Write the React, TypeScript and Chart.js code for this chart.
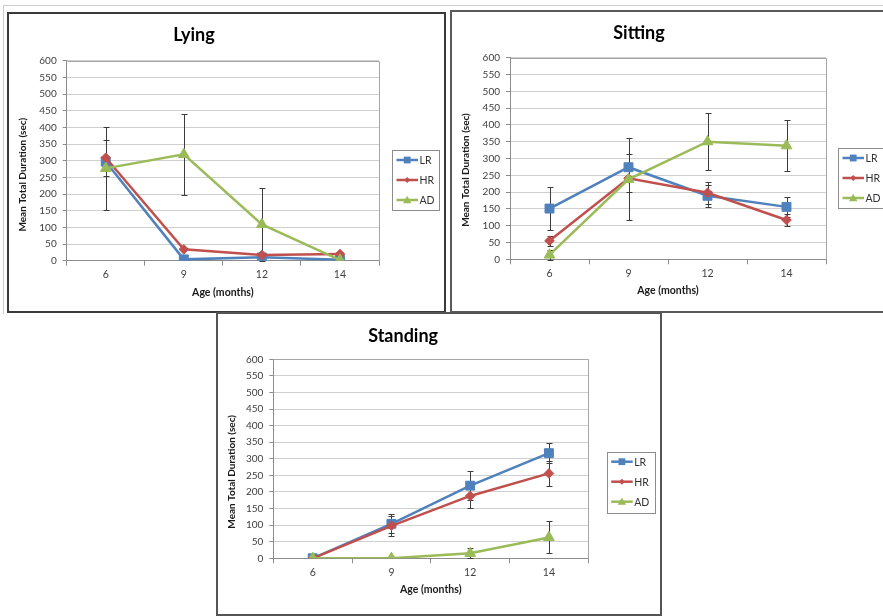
import React, { useEffect, useRef } from "react";
import { Chart, registerables } from "chart.js";

Chart.register(...registerables);

// ---------- data ----------
const AGES = ["6", "9", "12", "14"];
const SERIES_NAMES = ["LR", "HR", "AD"];
const Y_MIN = 0;
const Y_MAX = 600;
const Y_STEP = 50;

const LYING_LR = [297, 4, 10, 3];
const LYING_HR = [309, 34, 17, 20];
const LYING_AD = [277, 319, 109, 2];
const LYING_LR_ERR = [0, 0, 0, 0];
const LYING_HR_ERR = [54, 0, 0, 0];
const LYING_AD_ERR = [125, 122, 110, 0];

const SITTING_LR = [151, 274, 189, 156];
const SITTING_HR = [55, 241, 198, 117];
const SITTING_AD = [13, 238, 350, 338];
const SITTING_LR_ERR = [65, 38, 33, 30];
const SITTING_HR_ERR = [14, 40, 33, 18];
const SITTING_AD_ERR = [14, 122, 85, 76];

const STANDING_LR = [0, 104, 219, 317];
const STANDING_HR = [0, 98, 188, 256];
const STANDING_AD = [0, 0, 15, 63];
const STANDING_LR_ERR = [0, 29, 44, 30];
const STANDING_HR_ERR = [0, 31, 37, 37];
const STANDING_AD_ERR = [0, 0, 15, 48];

const Y_TITLE = "Mean Total Duration (sec)";
const X_TITLE = "Age (months)";

// ---------- styles ----------
const COLORS = ["#4F81BD", "#C0504D", "#9BBB59"];
const POINT_STYLES = ["rect", "rectRot", "triangle"];
const POINT_RADII = [6.3, 4.8, 6.2];
const FONT = "Lato, 'Open Sans', 'DejaVu Sans', sans-serif";

type Panel = {
  key: string;
  title: string;
  box: { left: number; top: number; width: number; height: number; color: string };
  plot: { left: number; right: number; top: number; bottom: number };
  titleY: number;
  yTitle: { x: number; y: number };
  xLabelY: number;
  xTitleY: number;
  legend: { x: number; y: number; w: number; h: number };
  series: number[][];
  errors: number[][];
};

const PANELS: Panel[] = [
  {
    key: "lying",
    title: "Lying",
    box: { left: 7, top: 12, width: 439, height: 301, color: "#3a3a3a" },
    plot: { left: 57.7, right: 370, top: 46.7, bottom: 246.7 },
    titleY: 21,
    yTitle: { x: 14, y: 160.7 },
    xLabelY: 261,
    xTitleY: 278.3,
    legend: { x: 383, y: 136, w: 47, h: 60 },
    series: [LYING_LR, LYING_HR, LYING_AD],
    errors: [LYING_LR_ERR, LYING_HR_ERR, LYING_AD_ERR],
  },
  {
    key: "sitting",
    title: "Sitting",
    box: { left: 450, top: 10, width: 440, height: 303, color: "#5a5a5a" },
    plot: { left: 58, right: 374, top: 45.7, bottom: 247.3 },
    titleY: 21,
    yTitle: { x: 14, y: 158 },
    xLabelY: 262,
    xTitleY: 278.7,
    legend: { x: 386, y: 136, w: 48, h: 60 },
    series: [SITTING_LR, SITTING_HR, SITTING_AD],
    errors: [SITTING_LR_ERR, SITTING_HR_ERR, SITTING_AD_ERR],
  },
  {
    key: "standing",
    title: "Standing",
    box: { left: 216, top: 312, width: 446, height: 304, color: "#555555" },
    plot: { left: 55.3, right: 370.3, top: 45.3, bottom: 244.3 },
    titleY: 21.7,
    yTitle: { x: 13.7, y: 157.8 },
    xLabelY: 258.7,
    xTitleY: 275.3,
    legend: { x: 388.7, y: 137.7, w: 48, h: 61 },
    series: [STANDING_LR, STANDING_HR, STANDING_AD],
    errors: [STANDING_LR_ERR, STANDING_HR_ERR, STANDING_AD_ERR],
  },
];

function drawMarker(ctx: CanvasRenderingContext2D, style: string, x: number, y: number, r: number) {
  ctx.beginPath();
  if (style === "rect") {
    ctx.rect(x - r, y - r, 2 * r, 2 * r);
  } else if (style === "rectRot") {
    ctx.moveTo(x, y - r);
    ctx.lineTo(x + r, y);
    ctx.lineTo(x, y + r);
    ctx.lineTo(x - r, y);
    ctx.closePath();
  } else {
    ctx.moveTo(x, y - r);
    ctx.lineTo(x + r, y + r * 0.75);
    ctx.lineTo(x - r, y + r * 0.75);
    ctx.closePath();
  }
  ctx.fill();
}

const panelPlugin = {
  id: "panelDecor",
  beforeDatasetsDraw(chart: any, _args: any, opts: any) {
    const ctx: CanvasRenderingContext2D = chart.ctx;
    const ca = chart.chartArea;
    // plot area border (top/right)
    ctx.save();
    ctx.strokeStyle = "#a6a6a6";
    ctx.lineWidth = 1;
    ctx.beginPath();
    ctx.moveTo(Math.round(ca.left) + 0.5, Math.round(ca.top) + 0.5);
    ctx.lineTo(Math.round(ca.right) + 0.5, Math.round(ca.top) + 0.5);
    ctx.lineTo(Math.round(ca.right) + 0.5, Math.round(ca.bottom) + 0.5);
    ctx.stroke();
    ctx.restore();

    // error bars
    const yScale = chart.scales.y;
    const errors: number[][] = opts.errors || [];
    ctx.save();
    ctx.strokeStyle = "#3c3c3c";
    ctx.lineWidth = 1;
    chart.data.datasets.forEach((ds: any, i: number) => {
      const meta = chart.getDatasetMeta(i);
      const errs = errors[i] || [];
      meta.data.forEach((pt: any, j: number) => {
        const e = errs[j];
        if (!e) return;
        const v = ds.data[j];
        const x = Math.round(pt.x) + 0.5;
        const yt = Math.round(yScale.getPixelForValue(v + e)) + 0.5;
        const yb = Math.round(yScale.getPixelForValue(v - e)) + 0.5;
        ctx.beginPath();
        ctx.moveTo(x, yt);
        ctx.lineTo(x, yb);
        ctx.moveTo(x - 3, yt);
        ctx.lineTo(x + 3, yt);
        ctx.moveTo(x - 3, yb);
        ctx.lineTo(x + 3, yb);
        ctx.stroke();
      });
    });
    ctx.restore();
  },
  afterDraw(chart: any, _args: any, opts: any) {
    const ctx: CanvasRenderingContext2D = chart.ctx;
    // y axis title
    ctx.save();
    ctx.translate(opts.yTitle.x, opts.yTitle.y);
    ctx.rotate(-Math.PI / 2);
    ctx.font = `bold 10px ${FONT}`;
    ctx.fillStyle = "#1a1a1a";
    ctx.textAlign = "center";
    ctx.textBaseline = "middle";
    ctx.fillText(Y_TITLE, 0, 0);
    ctx.restore();

    // legend
    const L = opts.legend;
    ctx.save();
    ctx.strokeStyle = "#8c8c8c";
    ctx.lineWidth = 1;
    ctx.strokeRect(Math.round(L.x) + 0.5, Math.round(L.y) + 0.5, Math.round(L.w), Math.round(L.h));
    chart.data.datasets.forEach((ds: any, i: number) => {
      const cy = L.y + 10 + i * 20;
      ctx.strokeStyle = ds.borderColor;
      ctx.fillStyle = ds.borderColor;
      ctx.lineWidth = 2.5;
      ctx.beginPath();
      ctx.moveTo(L.x + 4.5, cy);
      ctx.lineTo(L.x + 26, cy);
      ctx.stroke();
      const r = i === 0 ? 3.4 : i === 1 ? 3 : 4.2;
      drawMarker(ctx, POINT_STYLES[i], L.x + 15.2, cy, r);
      ctx.fillStyle = "#333333";
      ctx.font = `10.5px ${FONT}`;
      ctx.textAlign = "left";
      ctx.textBaseline = "middle";
      ctx.fillText(ds.label, L.x + 27.5, cy + 0.5);
    });
    ctx.restore();
  },
};

function ChartPanel({ panel }: { panel: Panel }) {
  const ref = useRef<HTMLCanvasElement | null>(null);
  const W = panel.box.width - 4;
  const H = panel.box.height - 4;

  useEffect(() => {
    if (!ref.current) return;
    const p = panel.plot;
    const titleLH = 18 * 1.2;
    const datasets = SERIES_NAMES.map((name, i) => ({
      label: name,
      data: panel.series[i],
      borderColor: COLORS[i],
      backgroundColor: COLORS[i],
      pointBackgroundColor: COLORS[i],
      pointBorderColor: COLORS[i],
      pointBorderWidth: 1,
      pointStyle: POINT_STYLES[i],
      pointRadius: POINT_RADII[i],
      borderWidth: 2.5,
      tension: 0,
      order: SERIES_NAMES.length - i,
    }));

    const chart = new Chart(ref.current, {
      type: "line",
      data: { labels: AGES, datasets },
      plugins: [panelPlugin as any],
      options: {
        animation: false,
        responsive: false,
        maintainAspectRatio: false,
        events: [],
        layout: { padding: { left: 0, top: 0, right: W - p.right, bottom: 0 } },
        plugins: {
          legend: { display: false },
          tooltip: { enabled: false },
          title: {
            display: true,
            text: panel.title,
            color: "#000000",
            font: { family: FONT, size: 18, weight: "bold" },
            padding: { top: panel.titleY - titleLH / 2, bottom: p.top - panel.titleY - titleLH / 2 },
          },
          panelDecor: {
            errors: panel.errors,
            legend: panel.legend,
            yTitle: panel.yTitle,
          },
        } as any,
        scales: {
          x: {
            type: "category",
            offset: true,
            afterFit: (s: any) => {
              s.height = H - p.bottom;
            },
            grid: {
              display: true,
              drawOnChartArea: false,
              drawTicks: true,
              tickLength: 5,
              offset: true,
              color: "#8c8c8c",
            },
            border: { display: true, color: "#8c8c8c", width: 1 },
            ticks: {
              color: "#404040",
              font: { family: FONT, size: 10.5 },
              padding: panel.xLabelY - p.bottom - 5 - 6.3,
              autoSkip: false,
              maxRotation: 0,
            },
            title: {
              display: true,
              text: X_TITLE,
              color: "#1a1a1a",
              font: { family: FONT, size: 10.5, weight: "bold" },
              padding: { top: 0, bottom: H - panel.xTitleY - 6.3 },
            },
          },
          y: {
            type: "linear",
            min: Y_MIN,
            max: Y_MAX,
            afterFit: (s: any) => {
              s.width = p.left;
            },
            grid: {
              color: "#cfcfcf",
              tickColor: "#8c8c8c",
              tickLength: 4,
              drawTicks: true,
            },
            border: { display: true, color: "#8c8c8c", width: 1 },
            ticks: {
              stepSize: Y_STEP,
              autoSkip: false,
              color: "#404040",
              font: { family: FONT, size: 10 },
              padding: 6,
            },
            title: { display: false },
          },
        },
      } as any,
    });
    return () => chart.destroy();
  }, [panel, W, H]);

  return (
    <>
      <div
        style={{
          position: "absolute",
          left: panel.box.left,
          top: panel.box.top,
          width: panel.box.width,
          height: panel.box.height,
          border: `2px solid ${panel.box.color}`,
          boxSizing: "border-box",
          background: "#ffffff",
        }}
      />
      <canvas
        ref={ref}
        width={W}
        height={H}
        style={{
          position: "absolute",
          left: panel.box.left + 2,
          top: panel.box.top + 2,
          width: W,
          height: H,
        }}
      />
    </>
  );
}

export default function App() {
  return (
    <div
      style={{
        position: "fixed",
        left: 0,
        top: 0,
        width: 883,
        height: 616,
        overflow: "hidden",
        background: "#ffffff",
      }}
    >
      <div
        style={{
          position: "absolute",
          left: 3,
          top: 5,
          width: 880,
          height: 308,
          borderTop: "1px solid #cccccc",
          borderLeft: "1px solid #cccccc",
        }}
      />
      {PANELS.map((p) => (
        <ChartPanel key={p.key} panel={p} />
      ))}
    </div>
  );
}
